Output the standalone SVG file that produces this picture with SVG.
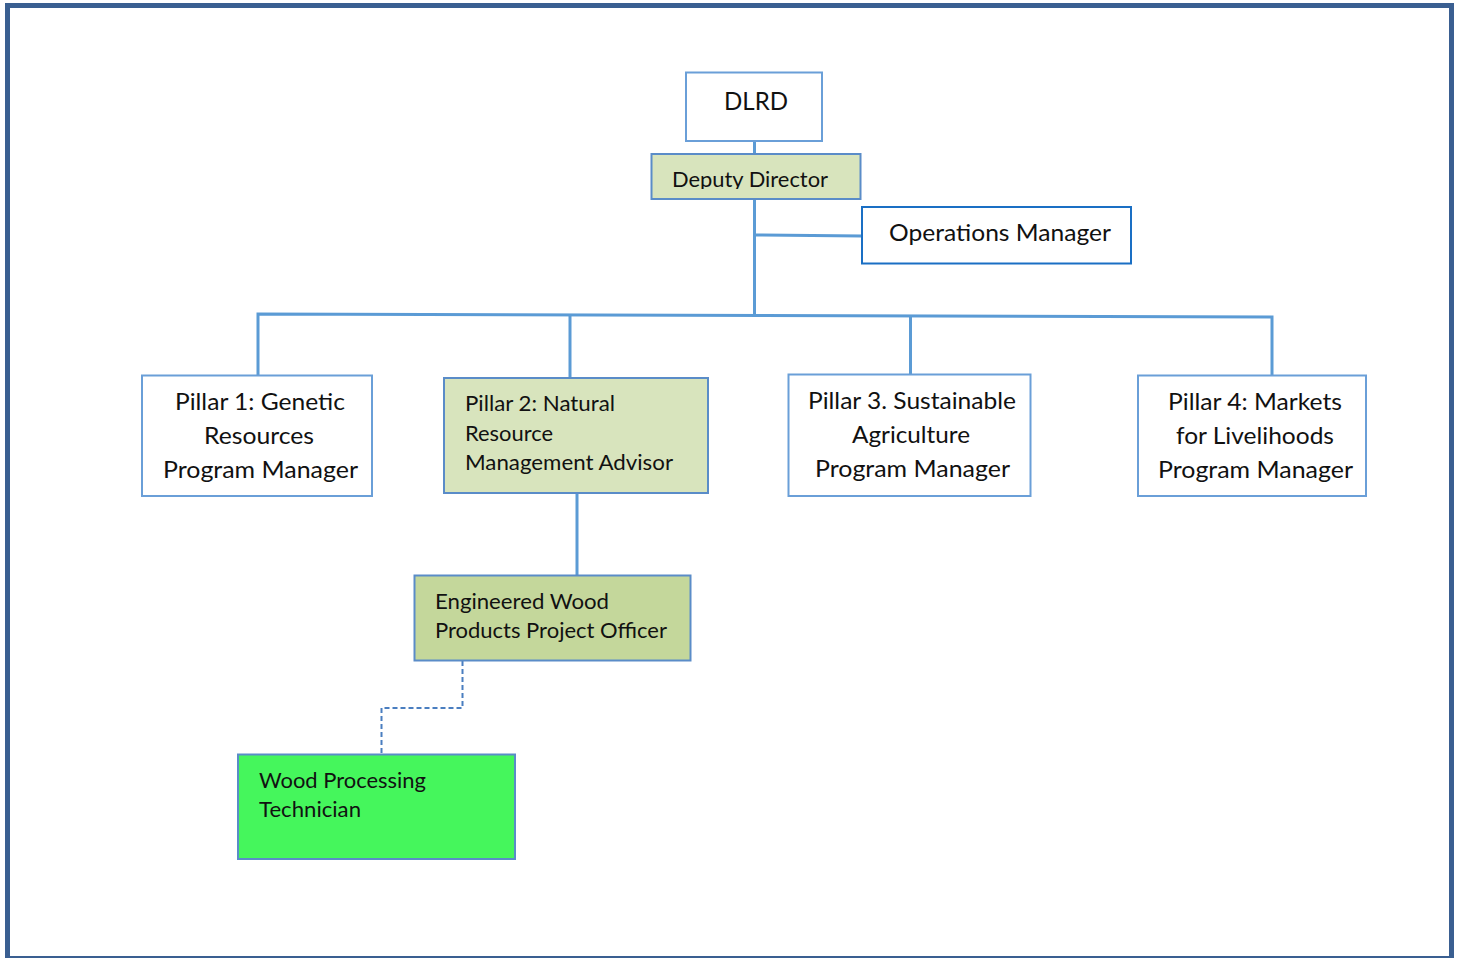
<svg xmlns="http://www.w3.org/2000/svg" width="1460" height="958" viewBox="0 0 1460 958">
<style>
  text { font-family: Lato, "Liberation Sans", sans-serif; fill: #111; }
  .box { fill: #ffffff; stroke: #6a9fd8; stroke-width: 2; }
  .ops { fill: #ffffff; stroke: #1a6fc4; stroke-width: 2; }
  .green1 { fill: #d8e4bd; stroke: #5a8cc8; stroke-width: 2; }
  .green2 { fill: #c4d79b; stroke: #5a8cc8; stroke-width: 2; }
  .green3 { fill: #45f65c; stroke: #5a8cc8; stroke-width: 2; }
  .conn { fill: none; stroke: #5b9bd5; stroke-width: 3; }
  .dash { fill: none; stroke: #4a7ec0; stroke-width: 2; stroke-dasharray: 5 3; }
  .big { font-size: 23px; }
  .mid { font-size: 21px; }
  .c { text-anchor: middle; }
</style>
<defs>
  <clipPath id="ddclip"><rect x="651" y="154" width="210" height="35"/></clipPath>
</defs>
<rect x="7.5" y="5.5" width="1444" height="953" fill="#ffffff" stroke="#3a5f91" stroke-width="5"/>

<g id="connectors">
  <line class="conn" x1="754.5" y1="141" x2="754.5" y2="154"/>
  <line class="conn" x1="754.5" y1="199" x2="754.5" y2="316"/>
  <line class="conn" x1="754.5" y1="235" x2="862" y2="236"/>
  <polyline class="conn" points="258,375 258,314 1272,317 1272,375"/>
  <line class="conn" x1="570" y1="315" x2="570" y2="378"/>
  <line class="conn" x1="910.5" y1="316" x2="910.5" y2="374"/>
  <line class="conn" x1="577" y1="493" x2="577" y2="575"/>
  <polyline class="dash" points="462.5,661 462.5,708 381.5,708 381.5,754"/>
</g>

<g id="dlrd">
  <rect class="box" x="686" y="72.5" width="136" height="68.5"/>
  <text x="756" y="110" class="c" font-size="25" textLength="64" lengthAdjust="spacingAndGlyphs">DLRD</text>
</g>

<g id="deputy-director">
  <rect class="green1" x="651.5" y="154" width="209" height="45"/>
  <text x="672" y="187" font-size="21.5" textLength="156" lengthAdjust="spacingAndGlyphs" clip-path="url(#ddclip)">Deputy Director</text>
</g>

<g id="operations-manager">
  <rect class="ops" x="862" y="207" width="269" height="56.5"/>
  <text x="889" y="241" font-size="24" textLength="222" lengthAdjust="spacingAndGlyphs">Operations Manager</text>
</g>

<g id="pillar1">
  <rect class="box" x="142" y="375.5" width="230" height="120.5"/>
  <text x="260" y="410" class="c big" textLength="170" lengthAdjust="spacingAndGlyphs">Pillar 1: Genetic</text>
  <text x="259" y="444" class="c big" textLength="110" lengthAdjust="spacingAndGlyphs">Resources</text>
  <text x="260.5" y="478" class="c big" textLength="195" lengthAdjust="spacingAndGlyphs">Program Manager</text>
</g>

<g id="pillar2">
  <rect class="green1" x="444" y="378" width="264" height="115"/>
  <text x="465" y="411" class="mid" textLength="150" lengthAdjust="spacingAndGlyphs">Pillar 2: Natural</text>
  <text x="465" y="441" class="mid" textLength="88" lengthAdjust="spacingAndGlyphs">Resource</text>
  <text x="465" y="470" class="mid" textLength="208" lengthAdjust="spacingAndGlyphs">Management Advisor</text>
</g>

<g id="pillar3">
  <rect class="box" x="788.5" y="374.5" width="242" height="121.5"/>
  <text x="912" y="409" class="c big" textLength="208" lengthAdjust="spacingAndGlyphs">Pillar 3. Sustainable</text>
  <text x="911" y="443" class="c big" textLength="118" lengthAdjust="spacingAndGlyphs">Agriculture</text>
  <text x="912.5" y="477" class="c big" textLength="195" lengthAdjust="spacingAndGlyphs">Program Manager</text>
</g>

<g id="pillar4">
  <rect class="box" x="1138" y="375.5" width="228" height="120.5"/>
  <text x="1255" y="410" class="c big" textLength="174" lengthAdjust="spacingAndGlyphs">Pillar 4: Markets</text>
  <text x="1255" y="444" class="c big" textLength="158" lengthAdjust="spacingAndGlyphs">for Livelihoods</text>
  <text x="1255.5" y="478" class="c big" textLength="195" lengthAdjust="spacingAndGlyphs">Program Manager</text>
</g>

<g id="engineered-wood">
  <rect class="green2" x="414.5" y="575.5" width="276" height="85"/>
  <text x="435" y="609" class="mid" textLength="174" lengthAdjust="spacingAndGlyphs">Engineered Wood</text>
  <text x="435" y="638" class="mid" textLength="232" lengthAdjust="spacingAndGlyphs">Products Project Officer</text>
</g>

<g id="wood-processing">
  <rect class="green3" x="238" y="754.5" width="277" height="104.5"/>
  <text x="259" y="788" class="mid" textLength="167" lengthAdjust="spacingAndGlyphs">Wood Processing</text>
  <text x="259" y="817" class="mid" textLength="102" lengthAdjust="spacingAndGlyphs">Technician</text>
</g>
</svg>
